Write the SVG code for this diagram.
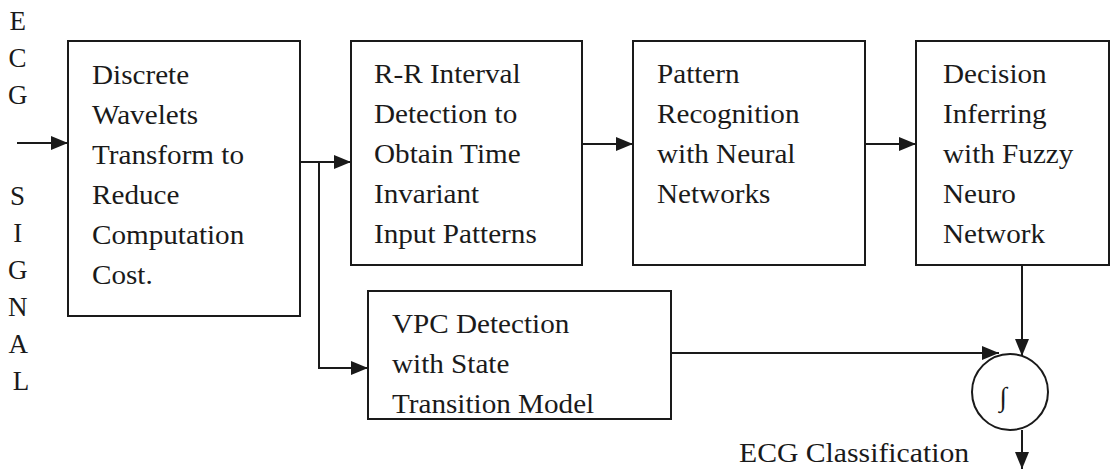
<svg xmlns="http://www.w3.org/2000/svg" width="1111" height="470" viewBox="0 0 1111 470">
  <style>
    .box { fill: #ffffff; stroke: #1a1a1a; stroke-width: 2; }
    .lbl { font-family: "Liberation Serif", "Times New Roman", serif; font-size: 27px; fill: #1a1a1a; }
    .wire { fill: none; stroke: #1a1a1a; stroke-width: 2; }
  </style>
  <defs>
    <marker id="arrow" markerUnits="userSpaceOnUse" markerWidth="18" markerHeight="14" refX="17" refY="7" orient="auto">
      <path d="M0,0 L17,7 L0,14 Z" fill="#1a1a1a"/>
    </marker>
  </defs>
  <rect width="1111" height="470" fill="#ffffff"/>

  <!-- vertical input label -->
  <g id="input-label">
    <text class="lbl" text-anchor="middle">
      <tspan x="21" y="30">E</tspan>
      <tspan x="21" y="67">C</tspan>
      <tspan x="21" y="104">G</tspan>
      <tspan x="21" y="205">S</tspan>
      <tspan x="21" y="242">I</tspan>
      <tspan x="21" y="279">G</tspan>
      <tspan x="21" y="316">N</tspan>
      <tspan x="21" y="353">A</tspan>
      <tspan x="21" y="390">L</tspan>
    </text>
  </g>

  <g id="dwt">
    <rect class="box" x="68" y="41" width="232" height="275"/>
    <g transform="translate(92,0) scale(1.08,1)">
      <text class="lbl">
        <tspan x="0" y="84">Discrete</tspan>
        <tspan x="0" y="124">Wavelets</tspan>
        <tspan x="0" y="164">Transform to</tspan>
        <tspan x="0" y="204">Reduce</tspan>
        <tspan x="0" y="244">Computation</tspan>
        <tspan x="0" y="284">Cost.</tspan>
      </text>
    </g>
  </g>

  <g id="rr-interval">
    <rect class="box" x="351" y="41" width="231" height="224"/>
    <g transform="translate(374,0) scale(1.08,1)">
      <text class="lbl">
        <tspan x="0" y="83">R-R Interval</tspan>
        <tspan x="0" y="123">Detection to</tspan>
        <tspan x="0" y="163">Obtain Time</tspan>
        <tspan x="0" y="203">Invariant</tspan>
        <tspan x="0" y="243">Input Patterns</tspan>
      </text>
    </g>
  </g>

  <g id="pattern-recognition">
    <rect class="box" x="633" y="41" width="232" height="224"/>
    <g transform="translate(657,0) scale(1.08,1)">
      <text class="lbl">
        <tspan x="0" y="83">Pattern</tspan>
        <tspan x="0" y="123">Recognition</tspan>
        <tspan x="0" y="163">with Neural</tspan>
        <tspan x="0" y="203">Networks</tspan>
      </text>
    </g>
  </g>

  <g id="fuzzy-decision">
    <rect class="box" x="916" y="41" width="193" height="224"/>
    <g transform="translate(943,0) scale(1.08,1)">
      <text class="lbl">
        <tspan x="0" y="83">Decision</tspan>
        <tspan x="0" y="123">Inferring</tspan>
        <tspan x="0" y="163">with Fuzzy</tspan>
        <tspan x="0" y="203">Neuro</tspan>
        <tspan x="0" y="243">Network</tspan>
      </text>
    </g>
  </g>

  <g id="vpc-detection">
    <rect class="box" x="368" y="291" width="303" height="128"/>
    <g transform="translate(392,0) scale(1.08,1)">
      <text class="lbl">
        <tspan x="0" y="333">VPC Detection</tspan>
        <tspan x="0" y="373">with State</tspan>
        <tspan x="0" y="413">Transition Model</tspan>
      </text>
    </g>
  </g>

  <g id="integrator">
    <circle class="box" cx="1010" cy="392" r="38"/>
    <text class="lbl" x="1003" y="406" text-anchor="middle" font-size="26">∫</text>
  </g>

  <g id="output-label">
    <g transform="translate(739,0) scale(1.1,1)">
      <text class="lbl" x="0" y="462">ECG Classification</text>
    </g>
  </g>

  <g id="connectors">
    <line class="wire" x1="17" y1="143" x2="68" y2="143" marker-end="url(#arrow)"/>
    <line class="wire" x1="300" y1="162" x2="351" y2="162" marker-end="url(#arrow)"/>
    <polyline class="wire" points="319,162 319,368 368,368" marker-end="url(#arrow)"/>
    <line class="wire" x1="582" y1="144" x2="633" y2="144" marker-end="url(#arrow)"/>
    <line class="wire" x1="865" y1="144" x2="916" y2="144" marker-end="url(#arrow)"/>
    <line class="wire" x1="1022" y1="265" x2="1022" y2="356" marker-end="url(#arrow)"/>
    <line class="wire" x1="671" y1="353" x2="999" y2="353" marker-end="url(#arrow)"/>
    <line class="wire" x1="1022" y1="430" x2="1022" y2="469" marker-end="url(#arrow)"/>
  </g>
</svg>
